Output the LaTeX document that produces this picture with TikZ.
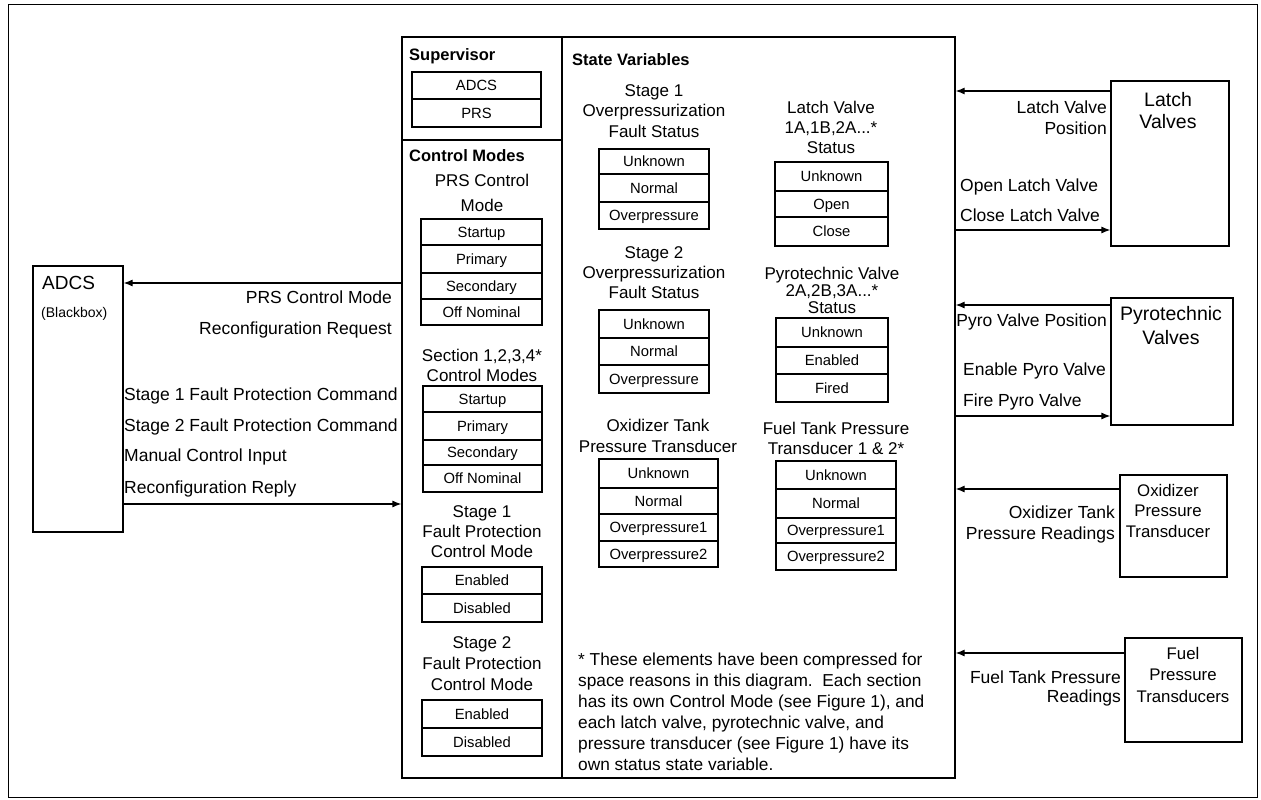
\documentclass[tikz,border=0pt]{standalone}
\usepackage{fontspec}
\setmainfont{Liberation Sans}
\usetikzlibrary{arrows.meta}

% one cell of a stacked value table: name, x1, y1, x2, y2, text
\newcommand\tcell[6]{%
  \node[tcell, minimum width={(#4)-(#2)}, minimum height={(#5)-(#3)}]
    (#1) at ({((#2)+(#4))/2},{((#3)+(#5))/2}) {#6};}

\tikzset{
  box/.style={draw, line width=1.2pt, inner sep=0pt},
  tcell/.style={draw, line width=1.1pt, inner sep=0pt,
    font=\fontsize{14.8}{16}\selectfont, text height=10.6pt, text depth=0pt},
  lbl/.style={inner sep=0pt, font=\fontsize{17.5}{21}\selectfont,
    text height=12.5pt, text depth=0pt},
  ttl/.style={inner sep=0pt, align=center},
  head/.style={inner sep=0pt, anchor=west,
    font=\bfseries\fontsize{16.5}{20}\selectfont, text height=12pt, text depth=0pt},
  arr/.style={line width=1.2pt, -{Latex[length=9pt,width=7pt]}},
}

\begin{document}
\begin{tikzpicture}[x=1pt, y=-1pt]
\useasboundingbox (0,0) rectangle (1261,800);

% page frame
\draw[line width=1pt] (8,5) rectangle (1257,797);

% ---------------- main blocks ----------------
\node[box, minimum width=90, minimum height=266] (adcs) at (78,399) {};
\node[inner sep=0pt, anchor=west, font=\fontsize{19}{22}\selectfont,
      text height=13.6pt, text depth=0pt] (adcsT) at (42,283) {ADCS};
\node[inner sep=0pt, anchor=west, font=\fontsize{14}{16}\selectfont,
      text height=10pt, text depth=0pt] (adcsB) at (41,312) {(Blackbox)};

\node[box, minimum width=553, minimum height=741] (main) at (678.5,407.5) {};
\coordinate (colx) at (562,0);
\coordinate (supy) at (0,140);
\draw[line width=1.2pt] (main.north -| colx) -- (main.south -| colx);
\draw[line width=1.2pt] (main.west |- supy) -- (colx |- supy);

\node[box, minimum width=118, minimum height=165] (latch) at (1170,163.5) {};
\node[ttl, font=\fontsize{19.5}{22}\selectfont] (latchT) at (1168,111) {Latch\\Valves};

\node[box, minimum width=122, minimum height=127] (pyro) at (1172,361.5) {};
\node[ttl, font=\fontsize{19.5}{24}\selectfont] (pyroT) at (1171,326) {Pyrotechnic\\Valves};

\node[box, minimum width=107, minimum height=102] (oxi) at (1173.5,526) {};
\node[ttl, font=\fontsize{16.8}{20.5}\selectfont] (oxiT) at (1168,510.5) {Oxidizer\\Pressure\\Transducer};

\node[box, minimum width=117, minimum height=104] (fuel) at (1183.5,690) {};
\node[ttl, font=\fontsize{16.8}{21.5}\selectfont] (fuelT) at (1183,674.5) {Fuel\\Pressure\\Transducers};

% ---------------- connectors ----------------
\coordinate (y1) at (0,283);
\coordinate (y2) at (0,504);
\coordinate (y3) at (0,91);
\coordinate (y4) at (0,230);
\coordinate (y5) at (0,305);
\coordinate (y6) at (0,416);
\coordinate (y7) at (0,489);
\coordinate (y8) at (0,653);
\draw[arr] (main.west |- y1) -- (adcs.east |- y1);
\draw[arr] (adcs.east |- y2) -- (main.west |- y2);
\draw[arr] (latch.west |- y3) -- (main.east |- y3);
\draw[arr] (main.east |- y4) -- (latch.west |- y4);
\draw[arr] (pyro.west |- y5) -- (main.east |- y5);
\draw[arr] (main.east |- y6) -- (pyro.west |- y6);
\draw[arr] (oxi.west |- y7) -- (main.east |- y7);
\draw[arr] (fuel.west |- y8) -- (main.east |- y8);

% connector labels
\node[lbl, anchor=east] (l1) at (392,297) {PRS Control Mode};
\node[lbl, anchor=east] (l2) at (392,328) {Reconfiguration Request};
\node[lbl, anchor=west] (l3) at (124,394) {Stage 1 Fault Protection Command};
\node[lbl, anchor=west] (l4) at (124,425) {Stage 2 Fault Protection Command};
\node[lbl, anchor=west] (l5) at (124,455) {Manual Control Input};
\node[lbl, anchor=west] (l6) at (124,487) {Reconfiguration Reply};

\node[lbl, anchor=east] (r1) at (1107,107) {Latch Valve};
\node[lbl, anchor=east] (r2) at (1107,128) {Position};
\node[lbl, anchor=west] (r3) at (960,185) {Open Latch Valve};
\node[lbl, anchor=west] (r4) at (960,215) {Close Latch Valve};
\node[lbl, anchor=east] (r5) at (1107,320) {Pyro Valve Position};
\node[lbl, anchor=west] (r6) at (963,369) {Enable Pyro Valve};
\node[lbl, anchor=west] (r7) at (963,400) {Fire Pyro Valve};
\node[lbl, anchor=east] (r8) at (1115,512) {Oxidizer Tank};
\node[lbl, anchor=east] (r9) at (1115,533) {Pressure Readings};
\node[lbl, anchor=east] (r10) at (1121,677) {Fuel Tank Pressure};
\node[lbl, anchor=east] (r11) at (1121,696) {Readings};

% ---------------- supervisor and control modes ----------------
\node[head] (supH) at (409,54) {Supervisor};
\tcell{supA}{412}{72}{541}{99}{ADCS}
\tcell{supB}{412}{99}{541}{127}{PRS}

\node[head] (cmH) at (409,155) {Control Modes};

\node[ttl, font=\fontsize{17}{25}\selectfont] (prsT) at (482,192.5) {PRS Control\\Mode};
\foreach \ya/\yb/\t [count=\i] in {219/245/Startup, 245/273/Primary,
    273/299/Secondary, 299/325/Off Nominal}
  {\tcell{prs\i}{421}{\ya}{542}{\yb}{\t}}

\node[ttl, font=\fontsize{17}{20}\selectfont] (secT) at (482,365) {Section 1,2,3,4*\\Control Modes};
\foreach \ya/\yb/\t [count=\i] in {386/412/Startup, 412/440/Primary,
    440/465/Secondary, 465/492/Off Nominal}
  {\tcell{sec\i}{423}{\ya}{542}{\yb}{\t}}

\node[ttl, font=\fontsize{17}{20}\selectfont] (fpaT) at (482,532) {Stage 1\\Fault Protection\\Control Mode};
\tcell{fpa1}{422}{567}{542}{594}{Enabled}
\tcell{fpa2}{422}{594}{542}{622}{Disabled}

\node[ttl, font=\fontsize{17}{21}\selectfont] (fpbT) at (482,664) {Stage 2\\Fault Protection\\Control Mode};
\tcell{fpb1}{422}{700}{542}{728}{Enabled}
\tcell{fpb2}{422}{728}{542}{756}{Disabled}

% ---------------- state variables ----------------
\node[head] (svH) at (572,60) {State Variables};

\node[ttl, font=\fontsize{17}{20.5}\selectfont] (opaT) at (654,111) {Stage 1\\Overpressurization\\Fault Status};
\foreach \ya/\yb/\t [count=\i] in {149/174/Unknown, 174/202/Normal, 202/229/Overpressure}
  {\tcell{opa\i}{599}{\ya}{709}{\yb}{\t}}

\node[ttl, font=\fontsize{17}{20}\selectfont] (lvT) at (831,127) {Latch Valve\\1A,1B,2A...*\\Status};
\foreach \ya/\yb/\t [count=\i] in {162/191/Unknown, 191/217/Open, 217/246/Close}
  {\tcell{lv\i}{775}{\ya}{888}{\yb}{\t}}

\node[ttl, font=\fontsize{17}{20}\selectfont] (opbT) at (654,273) {Stage 2\\Overpressurization\\Fault Status};
\foreach \ya/\yb/\t [count=\i] in {310/338/Unknown, 338/365/Normal, 365/393/Overpressure}
  {\tcell{opb\i}{599}{\ya}{709}{\yb}{\t}}

\node[ttl, font=\fontsize{17}{17}\selectfont] (pvT) at (832,290) {Pyrotechnic Valve\\2A,2B,3A...*\\Status};
\foreach \ya/\yb/\t [count=\i] in {318/347/Unknown, 347/374/Enabled, 374/402/Fired}
  {\tcell{pv\i}{776}{\ya}{888}{\yb}{\t}}

\node[ttl, font=\fontsize{17}{21}\selectfont] (otT) at (658,435.5) {Oxidizer Tank\\Pressure Transducer};
\foreach \ya/\yb/\t [count=\i] in {459/488/Unknown, 488/514/Normal,
    514/541/Overpressure1, 541/567/Overpressure2}
  {\tcell{ot\i}{599}{\ya}{718}{\yb}{\t}}

\node[ttl, font=\fontsize{17}{20}\selectfont] (ftT) at (836,438) {Fuel Tank Pressure\\Transducer 1 \& 2*};
\foreach \ya/\yb/\t [count=\i] in {461/489/Unknown, 489/518/Normal,
    518/543/Overpressure1, 543/570/Overpressure2}
  {\tcell{ft\i}{776}{\ya}{896}{\yb}{\t}}

% footnote
\node[inner sep=0pt, anchor=north west, align=left,
      font=\fontsize{17.3}{21}\selectfont] (note) at (578,653)
  {* These elements have been compressed for\\
   space reasons in this diagram.\ \ Each section\\
   has its own Control Mode (see Figure 1), and\\
   each latch valve, pyrotechnic valve, and\\
   pressure transducer (see Figure 1) have its\\
   own status state variable.};

\end{tikzpicture}
\end{document}
